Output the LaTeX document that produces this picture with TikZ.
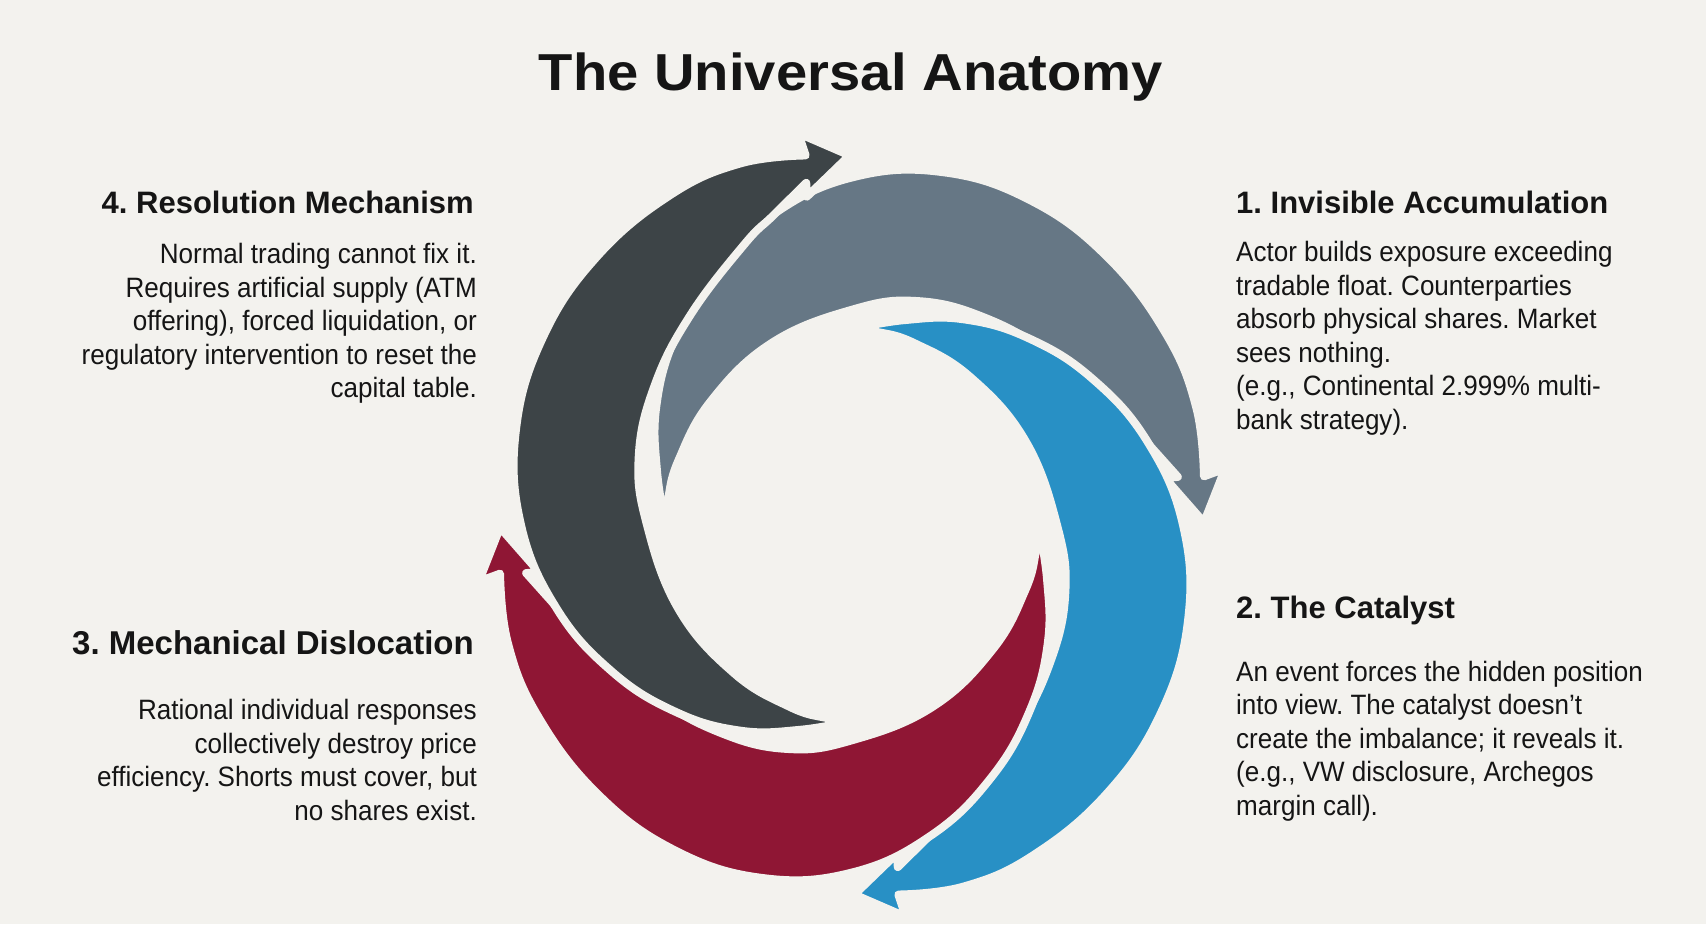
\documentclass[tikz,border=0pt]{standalone}
\usepackage{fontspec}
\setmainfont{Liberation Sans}
\newfontfamily\bodyfont{Liberation Sans}[FakeStretch=0.93]
\newfontfamily\titlefont{Liberation Sans}[FakeStretch=1.08]
\frenchspacing

\definecolor{paper}{HTML}{F3F2EE}
\definecolor{ink}{HTML}{151515}
\definecolor{slate}{HTML}{667785}
\definecolor{sky}{HTML}{2890C5}
\definecolor{wine}{HTML}{8F1634}
\definecolor{charcoal}{HTML}{3D4447}

\begin{document}
\begin{tikzpicture}[x=1pt, y=1pt,
  swirl/.style={draw=paper, line width=8pt, line join=round},
  headline/.style={inner sep=0pt, text=ink, font=\fontsize{31}{36}\selectfont\bfseries},
  bodytext/.style={inner sep=0pt, text=ink, font=\bodyfont\fontsize{28}{33.5}\selectfont}]

\fill[paper] (0,0) rectangle (1706,924);
\useasboundingbox (0,0) rectangle (1706,924);

%% Titel
\draw (851,833) node (title) [anchor=base, inner sep=0pt, text=ink,
  font=\titlefont\fontsize{52}{60}\selectfont\bfseries] {The Universal Anatomy};

%% Spirale aus vier Pfeilen %%%%%%%%%%%%%%%%%%%%%%%%%%%%%%%
\begin{scope}[shift={(852,399)}, yscale=1.05]

\draw[rotate=0, swirl, fill=slate]
  plot[smooth, tension=0.7] coordinates {(181:186) (165:202) (150:226) (135:251) (120:278)
    (105:306) (90:331) (75:348) (60:357) (45:361) (30:363) (18:362) (7.5:355)}
  -- (8.2:377) -- (0.4:352) -- (8.2:316) --
  plot[smooth, tension=0.7] coordinates {(8:329) (15:305) (22:288) (39:257) (56:238)
    (73:223) (90:205) (115:191) (140:184) (160:184) (172:185.5) (181:186)}
  -- cycle;  % Akkumulation --> oben

\draw[rotate=-90, swirl, fill=sky]
  plot[smooth, tension=0.7] coordinates {(181:186) (165:202) (150:226) (135:251) (120:278)
    (105:306) (90:331) (75:348) (60:357) (45:361) (30:363) (18:362) (7.5:355)}
  -- (8.2:377) -- (0.4:352) -- (8.2:316) --
  plot[smooth, tension=0.7] coordinates {(8:329) (15:305) (22:288) (39:257) (56:238)
    (73:223) (90:205) (115:191) (140:184) (160:184) (172:185.5) (181:186)}
  -- cycle;  % Katalysator --> rechts

\draw[rotate=180, swirl, fill=wine]
  plot[smooth, tension=0.7] coordinates {(181:186) (165:202) (150:226) (135:251) (120:278)
    (105:306) (90:331) (75:348) (60:357) (45:361) (30:363) (18:362) (7.5:355)}
  -- (8.2:377) -- (0.4:352) -- (8.2:316) --
  plot[smooth, tension=0.7] coordinates {(8:329) (15:305) (22:288) (39:257) (56:238)
    (73:223) (90:205) (115:191) (140:184) (160:184) (172:185.5) (181:186)}
  -- cycle;  % Dislokation --> unten

\draw[rotate=90, swirl, fill=charcoal]
  plot[smooth, tension=0.7] coordinates {(181:186) (165:202) (150:226) (135:251) (120:278)
    (105:306) (90:331) (75:348) (60:357) (45:361) (30:363) (18:362) (7.5:355)}
  -- (8.2:377) -- (0.4:352) -- (8.2:316) --
  plot[smooth, tension=0.7] coordinates {(8:329) (15:305) (22:288) (39:257) (56:238)
    (73:223) (90:205) (115:191) (140:184) (160:184) (172:185.5) (181:186)}
  -- cycle;  % Aufloesung --> links

\end{scope}

%% Inhalte 1 %%%%%%%%%%%%%%%%%%%%%%%%%%%%%%%%%%%%%%%%%%%%%%%
\draw (1236,710) node (accumhead) [headline, anchor=base west]{1. Invisible Accumulation};

%% Labels
\draw (1236,662) node (accumtext) [bodytext, anchor=base west]{
  \begin{tabular}[t]{@{}l@{}}
    Actor builds exposure exceeding\\
    tradable float. Counterparties\\
    absorb physical shares. Market\\
    sees nothing.\\
    (e.g., Continental 2.999\% multi-\\
    bank strategy).
  \end{tabular}};

%% Inhalte 2 %%%%%%%%%%%%%%%%%%%%%%%%%%%%%%%%%%%%%%%%%%%%%%%
\draw (1236,305) node (catalysthead) [headline, anchor=base west]{2. The Catalyst};

%% Labels
\draw (1236,242.5) node (catalysttext) [bodytext, anchor=base west]{
  \begin{tabular}[t]{@{}l@{}}
    An event forces the hidden position\\
    into view. The catalyst doesn’t\\
    create the imbalance; it reveals it.\\
    (e.g., VW disclosure, Archegos\\
    margin call).
  \end{tabular}};

%% Inhalte 3 %%%%%%%%%%%%%%%%%%%%%%%%%%%%%%%%%%%%%%%%%%%%%%%
\draw (474,269) node (dislochead) [headline, anchor=base east,
  font=\fontsize{33}{38}\selectfont\bfseries]{3. Mechanical Dislocation};

%% Labels
\draw (477,204) node (disloctext) [bodytext, anchor=base east]{
  \begin{tabular}[t]{@{}r@{}}
    Rational individual responses\\
    collectively destroy price\\
    efficiency. Shorts must cover, but\\
    no shares exist.
  \end{tabular}};

%% Inhalte 4 %%%%%%%%%%%%%%%%%%%%%%%%%%%%%%%%%%%%%%%%%%%%%%%
\draw (474,710) node (resolhead) [headline, anchor=base east]{4. Resolution Mechanism};

%% Labels
\draw (477,660) node (resoltext) [bodytext, anchor=base east]{
  \begin{tabular}[t]{@{}r@{}}
    Normal trading cannot fix it.\\
    Requires artificial supply (ATM\\
    offering), forced liquidation, or\\
    regulatory intervention to reset the\\
    capital table.
  \end{tabular}};

\end{tikzpicture}
\end{document}
